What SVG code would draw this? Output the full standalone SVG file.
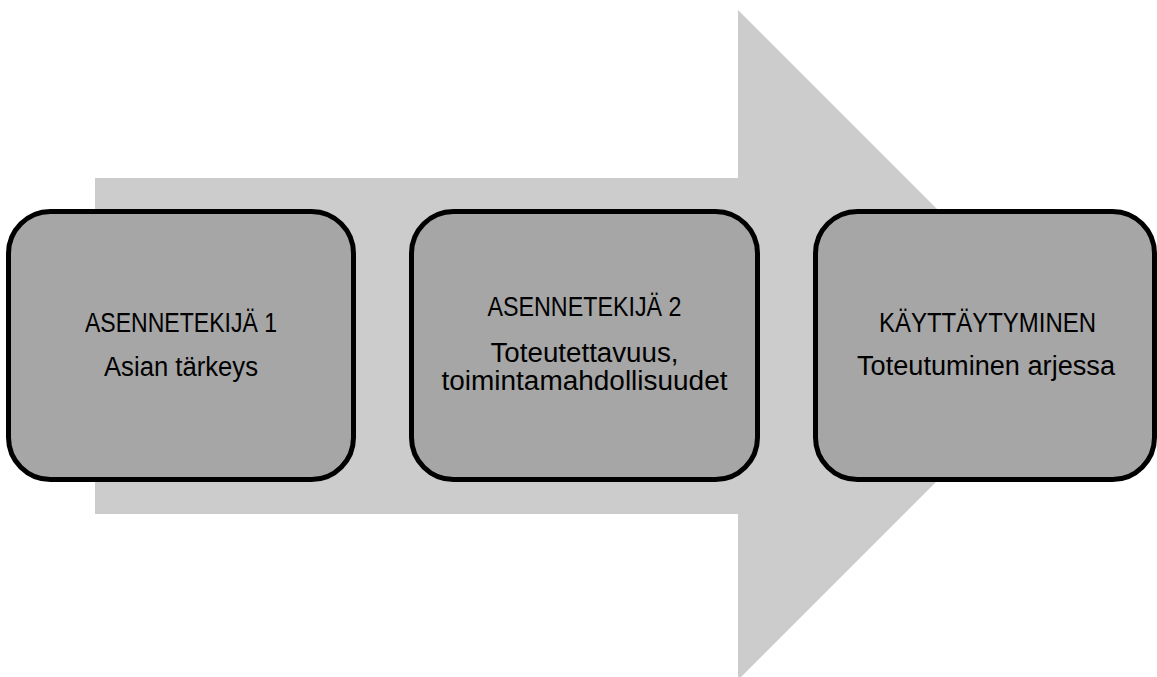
<svg xmlns="http://www.w3.org/2000/svg" width="1157" height="677" viewBox="0 0 1157 677">
<style>
.box{fill:#a6a6a6;stroke:#000;stroke-width:5}
.t{font-family:"Liberation Sans",Arial,sans-serif;font-size:27px;fill:#000;text-anchor:middle}
</style>
<rect width="1157" height="677" fill="#fff"/>
<g id="arrow">
<polygon points="95,178 738,178 738,10 1073,345 738,680 738,514 95,514" fill="#cccccc"/>
</g>
<g id="node1">
<rect class="box" x="8.5" y="211.5" width="345" height="268" rx="42" ry="42"/>
<text class="t" x="181" y="332" textLength="192" lengthAdjust="spacingAndGlyphs">ASENNETEKIJÄ 1</text>
<text class="t" x="181" y="376" textLength="154" lengthAdjust="spacingAndGlyphs">Asian tärkeys</text>
</g>
<g id="node2">
<rect class="box" x="411.5" y="211.5" width="346" height="268" rx="42" ry="42"/>
<text class="t" x="584.5" y="316" textLength="194" lengthAdjust="spacingAndGlyphs">ASENNETEKIJÄ 2</text>
<text class="t" x="584.5" y="362" textLength="188" lengthAdjust="spacingAndGlyphs">Toteutettavuus,</text>
<text class="t" x="584.5" y="390" textLength="286" lengthAdjust="spacingAndGlyphs">toimintamahdollisuudet</text>
</g>
<g id="node3">
<rect class="box" x="815.5" y="211.5" width="339" height="268" rx="42" ry="42"/>
<text class="t" x="987.5" y="332" textLength="217" lengthAdjust="spacingAndGlyphs">KÄYTTÄYTYMINEN</text>
<text class="t" x="986" y="375" textLength="258" lengthAdjust="spacingAndGlyphs">Toteutuminen arjessa</text>
</g>
<g id="connectors"></g>
</svg>
